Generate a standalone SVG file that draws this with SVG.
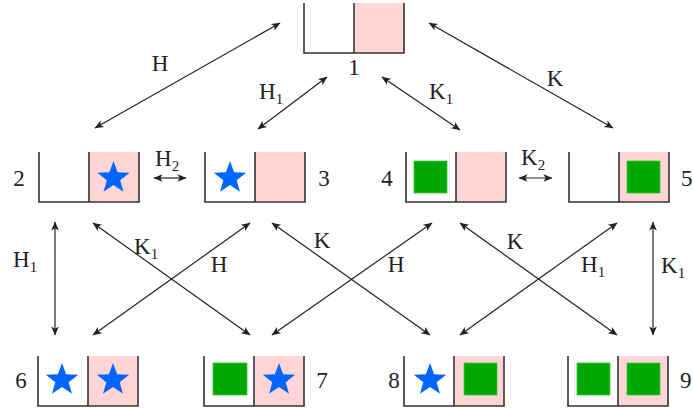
<svg xmlns="http://www.w3.org/2000/svg" width="693" height="409" viewBox="0 0 693 409">
<style>
.wall{fill:none;stroke:#333;stroke-width:1.6}
.pink{fill:#ffd5d5}
.sq{fill:#00a800;stroke:#3cc83c;stroke-width:0.8}
.star{fill:#0066ff}
.conn line{stroke:#222;stroke-width:1.2;marker-start:url(#ah);marker-end:url(#ah)}
.t{font-family:'Liberation Serif','DejaVu Serif',serif;font-size:23px;fill:#222}
.sub{font-size:15px}
</style>
<defs>
<marker id="ah" viewBox="-10 -6 12 12" refX="0" refY="0" markerWidth="12" markerHeight="12" markerUnits="userSpaceOnUse" orient="auto-start-reverse">
<path d="M0.5,0 L-8.5,-3.8 L-6.3,0 L-8.5,3.8 Z" fill="#222"/>
</marker>
<path id="star" d="M0,-17 L4.11,-5.66 L16.17,-5.25 L6.66,2.16 L9.99,13.75 L0,7 L-9.99,13.75 L-6.66,2.16 L-16.17,-5.25 L-4.11,-5.66 Z"/>
</defs>

<g id="node1">
<rect class="pink" x="354" y="3" width="50" height="50"/>
<path class="wall" d="M304,3 V53 H404 V3 M354,3 V53"/>
<text class="t" x="354" y="75" text-anchor="middle">1</text>
</g>

<g id="node2">
<rect class="pink" x="89" y="152" width="50" height="50"/>
<path class="wall" d="M39,152 V202 H139 V152 M89,152 V202"/>
<use href="#star" class="star" x="113.5" y="178"/>
<text class="t" x="19" y="186" text-anchor="middle">2</text>
</g>

<g id="node3">
<rect class="pink" x="255" y="152" width="50" height="50"/>
<path class="wall" d="M205,152 V202 H305 V152 M255,152 V202"/>
<use href="#star" class="star" x="230" y="178"/>
<text class="t" x="324" y="186" text-anchor="middle">3</text>
</g>

<g id="node4">
<rect class="pink" x="456" y="152" width="50" height="50"/>
<path class="wall" d="M406,152 V202 H506 V152 M456,152 V202"/>
<rect class="sq" x="414" y="161" width="33" height="32"/>
<text class="t" x="387" y="186" text-anchor="middle">4</text>
</g>

<g id="node5">
<rect class="pink" x="619" y="152" width="50" height="50"/>
<path class="wall" d="M569,152 V202 H669 V152 M619,152 V202"/>
<rect class="sq" x="627" y="161" width="33" height="32"/>
<text class="t" x="681" y="186">5</text>
</g>

<g id="node6">
<rect class="pink" x="88" y="356" width="50" height="50"/>
<path class="wall" d="M38,356 V406 H138 V356 M88,356 V406"/>
<use href="#star" class="star" x="62" y="380"/>
<use href="#star" class="star" x="113" y="380"/>
<text class="t" x="21" y="388" text-anchor="middle">6</text>
</g>

<g id="node7">
<rect class="pink" x="254" y="356" width="50" height="50"/>
<path class="wall" d="M204,356 V406 H304 V356 M254,356 V406"/>
<rect class="sq" x="213" y="363" width="34" height="32"/>
<use href="#star" class="star" x="279" y="380"/>
<text class="t" x="322" y="388" text-anchor="middle">7</text>
</g>

<g id="node8">
<rect class="pink" x="454" y="356" width="50" height="50"/>
<path class="wall" d="M404,356 V406 H504 V356 M454,356 V406"/>
<use href="#star" class="star" x="430" y="380"/>
<rect class="sq" x="464" y="363" width="33" height="32"/>
<text class="t" x="394" y="388" text-anchor="middle">8</text>
</g>

<g id="node9">
<rect class="pink" x="618" y="356" width="50" height="50"/>
<path class="wall" d="M568,356 V406 H668 V356 M618,356 V406"/>
<rect class="sq" x="577" y="363" width="33" height="32"/>
<rect class="sq" x="627" y="363" width="33" height="32"/>
<text class="t" x="680" y="388">9</text>
</g>

<g id="connectors" class="conn">
<line x1="95" y1="128" x2="280" y2="23"/>
<line x1="258" y1="129" x2="327" y2="77"/>
<line x1="382" y1="77" x2="460" y2="130"/>
<line x1="429" y1="23" x2="613" y2="128"/>
<line x1="154" y1="178" x2="186" y2="178"/>
<line x1="519" y1="178" x2="552" y2="178"/>
<line x1="55" y1="222" x2="55" y2="335"/>
<line x1="93" y1="223" x2="250" y2="335"/>
<line x1="250" y1="223" x2="93" y2="335"/>
<line x1="272" y1="223" x2="430" y2="335"/>
<line x1="432" y1="223" x2="272" y2="335"/>
<line x1="460" y1="223" x2="617" y2="335"/>
<line x1="617" y1="223" x2="460" y2="335"/>
<line x1="653" y1="222" x2="653" y2="335"/>
</g>

<g id="labels">
<text class="t" x="160" y="71" text-anchor="middle">H</text>
<text class="t" x="259" y="99">H<tspan class="sub" dy="5">1</tspan></text>
<text class="t" x="429" y="99">K<tspan class="sub" dy="5">1</tspan></text>
<text class="t" x="555" y="86" text-anchor="middle">K</text>
<text class="t" x="155" y="166">H<tspan class="sub" dy="5">2</tspan></text>
<text class="t" x="521" y="165">K<tspan class="sub" dy="5">2</tspan></text>
<text class="t" x="13" y="267">H<tspan class="sub" dy="5">1</tspan></text>
<text class="t" x="134" y="254">K<tspan class="sub" dy="5">1</tspan></text>
<text class="t" x="219" y="272" text-anchor="middle">H</text>
<text class="t" x="322" y="248" text-anchor="middle">K</text>
<text class="t" x="396" y="272" text-anchor="middle">H</text>
<text class="t" x="515" y="249" text-anchor="middle">K</text>
<text class="t" x="581" y="272">H<tspan class="sub" dy="5">1</tspan></text>
<text class="t" x="661" y="273">K<tspan class="sub" dy="5">1</tspan></text>
</g>
</svg>
